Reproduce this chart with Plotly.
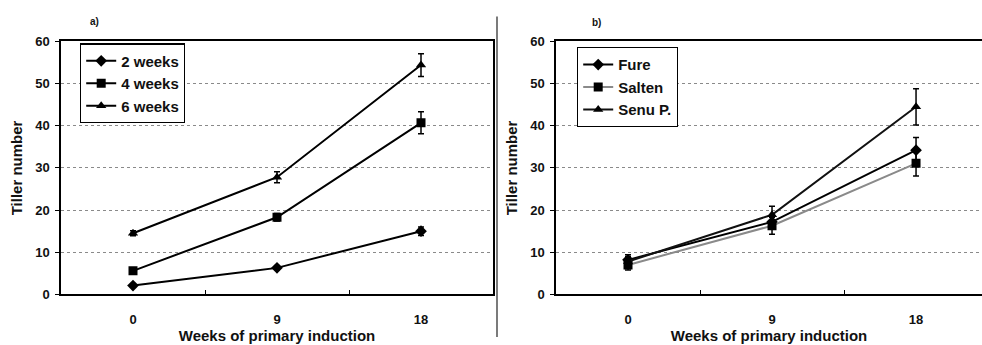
import plotly.graph_objects as go

W, H = 982, 345

weeks = ["0", "9", "18"]
xpos = [0, 1, 2]

# Panel a
a_names = ["2 weeks", "4 weeks", "6 weeks"]
a_vals = [[2.1, 6.3, 15.0], [5.6, 18.3, 40.7], [14.5, 27.8, 54.4]]
a_errs = [[0.4, 0.4, 1.0], [0.6, 0.9, 2.6], [0.6, 1.3, 2.7]]
a_symbols = ["diamond", "square", "triangle-up"]
a_colors = ["#000000", "#000000", "#000000"]

# Panel b
b_names = ["Fure", "Salten", "Senu P."]
b_vals = [[8.2, 17.2, 34.2], [7.0, 16.3, 31.1], [7.8, 18.9, 44.5]]
b_errs = [[1.2, 1.5, 3.0], [1.2, 2.0, 3.0], [1.2, 2.0, 4.3]]
b_symbols = ["diamond", "square", "triangle-up"]
b_colors = ["#000000", "#8a8a8a", "#111111"]

FONT = "Liberation Sans, Arial, sans-serif"

fig = go.Figure()

for n, v, e, s, c in zip(a_names, a_vals, a_errs, a_symbols, a_colors):
    fig.add_trace(go.Scatter(
        x=xpos, y=v, name=n, mode="lines+markers",
        line=dict(color=c, width=2),
        marker=dict(symbol=s, size=9, color="#000000"),
        error_y=dict(type="data", array=e, visible=True, color="#000000", thickness=1.5, width=3),
        xaxis="x", yaxis="y", legend="legend",
    ))

for n, v, e, s, c in zip(b_names, b_vals, b_errs, b_symbols, b_colors):
    fig.add_trace(go.Scatter(
        x=xpos, y=v, name=n, mode="lines+markers",
        line=dict(color=c, width=2),
        marker=dict(symbol=s, size=9, color="#000000"),
        error_y=dict(type="data", array=e, visible=True, color="#000000", thickness=1.5, width=3),
        xaxis="x2", yaxis="y2", legend="legend2",
    ))

ydom = [(H - 300.5) / H, (H - 36) / H]

tickf = dict(family=FONT, size=13, color="#111", weight="bold")
titlef = dict(family=FONT, size=15, color="#111", weight="bold")

common_x = dict(
    tickmode="array", tickvals=xpos, ticktext=weeks, ticks="",
    showline=True, linecolor="#000", linewidth=1.5, mirror=True,
    showgrid=False, zeroline=False,
    tickfont=tickf, ticklabelstandoff=12,
    minor=dict(tickmode="array", tickvals=[0.5, 1.5], ticks="inside", ticklen=5, tickcolor="#000", showgrid=False),
    title=dict(text="Weeks of primary induction", font=titlef, standoff=4),
)
common_y = dict(
    range=[0, 60], tickvals=[0, 10, 20, 30, 40, 50, 60], ticks="outside", ticklen=4, tickcolor="#000",
    showline=True, linecolor="#000", linewidth=1.5,
    showgrid=True, gridcolor="#8a8a8a", griddash="dot", gridwidth=1, zeroline=False,
    tickfont=tickf, ticklabelstandoff=3,
    title=dict(text="Tiller number", font=titlef, standoff=9),
)

legf = dict(family=FONT, size=15, color="#111", weight="bold")

fig.update_layout(
    width=W, height=H,
    margin=dict(l=0, r=0, t=0, b=0),
    paper_bgcolor="white", plot_bgcolor="white",
    font=dict(family=FONT, color="#111"),
    xaxis=dict(domain=[61 / W, 493 / W], range=[-0.5, 2.5], anchor="y", **common_x),
    yaxis=dict(domain=ydom, anchor="x", mirror=True, **common_y),
    xaxis2=dict(domain=[556 / W, 1.0], range=[-0.5, 2.458], anchor="y2", **common_x),
    yaxis2=dict(domain=ydom, anchor="x2", mirror=False, **common_y),
    legend=dict(x=80 / W, y=1 - 38 / H, xanchor="left", yanchor="top",
                bordercolor="#000", borderwidth=1.2, bgcolor="white",
                font=legf, itemwidth=30, tracegroupgap=0),
    legend2=dict(x=577 / W, y=1 - 42 / H, xanchor="left", yanchor="top",
                 bordercolor="#000", borderwidth=1.2, bgcolor="white",
                 font=legf, itemwidth=30, tracegroupgap=0),
    annotations=[
        dict(text="<b>a)</b>", x=88 / W, y=1 - 15 / H, xref="paper", yref="paper",
             showarrow=False, xanchor="left", yanchor="middle", font=dict(family=FONT, size=10, color="#111")),
        dict(text="<b>b)</b>", x=590 / W, y=1 - 16 / H, xref="paper", yref="paper",
             showarrow=False, xanchor="left", yanchor="middle", font=dict(family=FONT, size=10, color="#111")),
    ],
    shapes=[
        dict(type="line", xref="paper", yref="paper", x0=497 / W, x1=497 / W, y0=0, y1=1 - 10 / H,
             line=dict(color="#222", width=1.2)),
    ],
    showlegend=True,
)

fig.write_html("out.html")
